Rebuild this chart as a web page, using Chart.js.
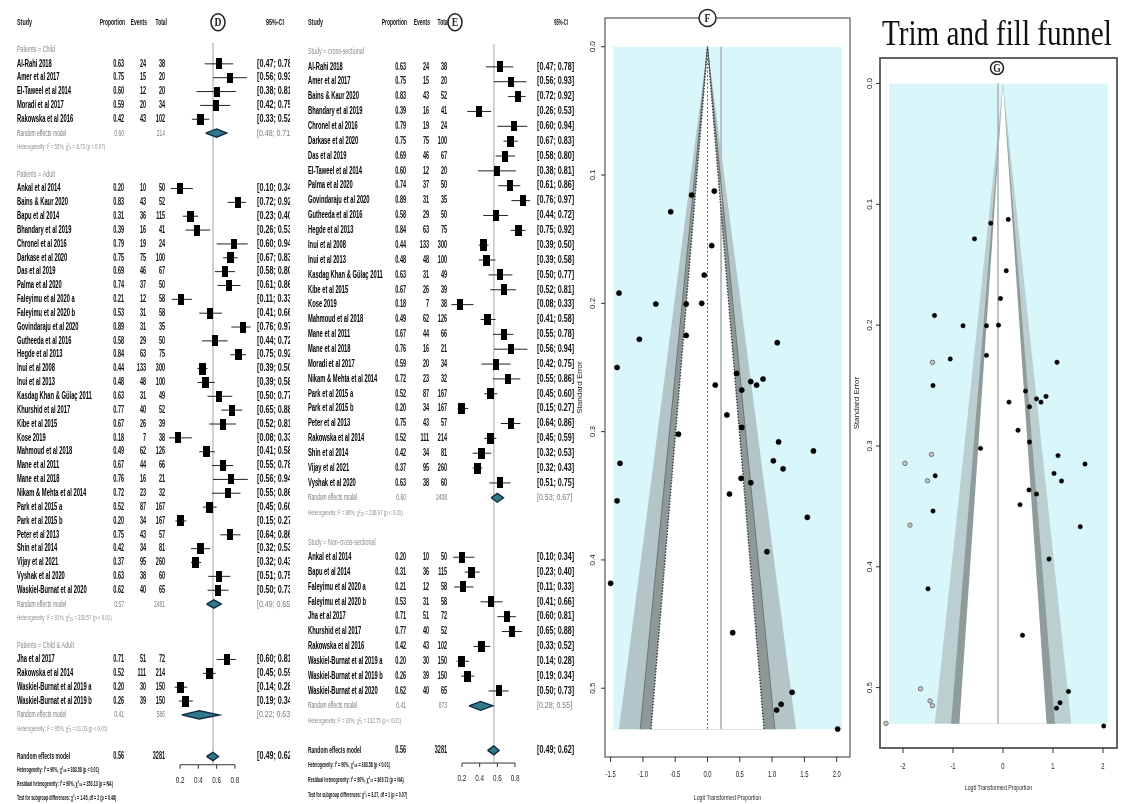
<!DOCTYPE html>
<html>
<head>
<meta charset="utf-8">
<script src="https://cdn.jsdelivr.net/npm/chart.js@4.4.1/dist/chart.umd.min.js"></script>
<style>
  body { margin: 0; background: #fff; width: 1124px; height: 804px; overflow: hidden; position: relative; }
  canvas { position: absolute; top: 0; }
  #chartD { left: 0; }
  #chartE { left: 290px; }
  #chartF { left: 572px; }
  #chartG { left: 852px; }
  .trim__title {
    position: absolute; left: 882px; top: 15px;
    font-family: 'Liberation Serif', 'DejaVu Serif', serif; font-size: 36px; line-height: 36px;
    transform: scaleX(0.81); transform-origin: left top; white-space: nowrap; color: #111;
  }
</style>
</head>
<body>
<canvas id="chartD" width="290" height="804"></canvas>
<canvas id="chartE" width="285" height="804"></canvas>
<canvas id="chartF" width="284" height="804"></canvas>
<canvas id="chartG" width="272" height="804"></canvas>
<div class="trim__title">Trim and fill funnel</div>
<script>
// ---- forest data (subgroups by patients, panel D) ----
const childStudies = ['Al-Rahi 2018', 'Amer et al 2017', 'El-Taweel et al 2014', 'Moradi et al 2017', 'Rakowska et al 2016']
const adultStudies = ['Ankal et al 2014', 'Bains & Kaur 2020', 'Bapu et al 2014', 'Bhandary et al 2019', 'Chronel et al 2016',
  'Darkase et al 2020', 'Das et al 2019', 'Palma et al 2020', 'Faleyimu et al 2020 a', 'Faleyimu et al 2020 b',
  'Govindaraju et al 2020', 'Gutheeda et al 2016', 'Hegde et al 2013', 'Inui et al 2008', 'Inui et al 2013',
  'Kasdag Khan & Gülaç 2011', 'Khurshid et al 2017', 'Kibe et al 2015', 'Kose 2019', 'Mahmoud et al 2018',
  'Mane et al 2011', 'Mane et al 2018', 'Nikam & Mehta et al 2014', 'Park et al 2015 a', 'Park et al 2015 b',
  'Peter et al 2013', 'Shin et al 2014', 'Vijay et al 2021', 'Vyshak et al 2020', 'Waskiel-Burnat et al 2020']
const childAdultStudies = ['Jha et al 2017', 'Rakowska et al 2014', 'Waskiel-Burnat et al 2019 a', 'Waskiel-Burnat et al 2019 b']

const studyNames = childStudies.concat(adultStudies, childAdultStudies)
const proportion = [0.63, 0.75, 0.60, 0.59, 0.42,
  0.20, 0.83, 0.31, 0.39, 0.79, 0.75, 0.69, 0.74, 0.21, 0.53, 0.89, 0.58, 0.84, 0.44, 0.48,
  0.63, 0.77, 0.67, 0.18, 0.49, 0.67, 0.76, 0.72, 0.52, 0.20, 0.75, 0.42, 0.37, 0.63, 0.62,
  0.71, 0.52, 0.20, 0.26]
const events = [24, 15, 12, 20, 43,
  10, 43, 36, 16, 19, 75, 46, 37, 12, 31, 31, 29, 63, 133, 48,
  31, 40, 26, 7, 62, 44, 16, 23, 87, 34, 43, 34, 95, 38, 40,
  51, 111, 30, 39]
const totals = [38, 20, 20, 34, 102,
  50, 52, 115, 41, 24, 100, 67, 50, 58, 58, 35, 50, 75, 300, 100,
  49, 52, 39, 38, 126, 66, 21, 32, 167, 167, 57, 81, 260, 60, 65,
  72, 214, 150, 150]
const ciLower = [0.47, 0.56, 0.38, 0.42, 0.33,
  0.10, 0.72, 0.23, 0.26, 0.60, 0.67, 0.58, 0.61, 0.11, 0.41, 0.76, 0.44, 0.75, 0.39, 0.39,
  0.50, 0.65, 0.52, 0.08, 0.41, 0.55, 0.56, 0.55, 0.45, 0.15, 0.64, 0.32, 0.32, 0.51, 0.50,
  0.60, 0.45, 0.14, 0.19]
const ciUpper = [0.78, 0.93, 0.81, 0.75, 0.52,
  0.34, 0.92, 0.40, 0.53, 0.94, 0.83, 0.80, 0.86, 0.33, 0.66, 0.97, 0.72, 0.92, 0.50, 0.58,
  0.77, 0.88, 0.81, 0.33, 0.58, 0.78, 0.94, 0.86, 0.60, 0.27, 0.86, 0.53, 0.43, 0.75, 0.73,
  0.81, 0.59, 0.28, 0.34]

const patientLabels = ['Patients = Child', 'Patients = Adult', 'Patients = Child & Adult']
const patientMembers = [childStudies, adultStudies, childAdultStudies]
const patientPooled = [0.60, 0.57, 0.41]
const patientPooledLo = [0.48, 0.49, 0.22]
const patientPooledHi = [0.71, 0.65, 0.63]
const patientPooledN = [214, 2481, 586]
const patientHet = ['Heterogeneity: I² = 55%, χ²₄ = 8.73 (p = 0.07)',
  'Heterogeneity: I² = 91%, χ²₂₉ = 330.57 (p < 0.01)',
  'Heterogeneity: I² = 95%, χ²₃ = 61.03 (p < 0.01)']

// ---- panel E: subgroups by study design ----
const crossSectional = ['Al-Rahi 2018', 'Amer et al 2017', 'Bains & Kaur 2020', 'Bhandary et al 2019', 'Chronel et al 2016',
  'Darkase et al 2020', 'Das et al 2019', 'El-Taweel et al 2014', 'Palma et al 2020', 'Govindaraju et al 2020',
  'Gutheeda et al 2016', 'Hegde et al 2013', 'Inui et al 2008', 'Inui et al 2013', 'Kasdag Khan & Gülaç 2011',
  'Kibe et al 2015', 'Kose 2019', 'Mahmoud et al 2018', 'Mane et al 2011', 'Mane et al 2018',
  'Moradi et al 2017', 'Nikam & Mehta et al 2014', 'Park et al 2015 a', 'Park et al 2015 b', 'Peter et al 2013',
  'Rakowska et al 2014', 'Shin et al 2014', 'Vijay et al 2021', 'Vyshak et al 2020']
const nonCrossSectional = ['Ankal et al 2014', 'Bapu et al 2014', 'Faleyimu et al 2020 a', 'Faleyimu et al 2020 b',
  'Jha et al 2017', 'Khurshid et al 2017', 'Rakowska et al 2016', 'Waskiel-Burnat et al 2019 a',
  'Waskiel-Burnat et al 2019 b', 'Waskiel-Burnat et al 2020']
const designLabels = ['Study = cross-sectional', 'Study = Non-cross-sectional']
const designMembers = [crossSectional, nonCrossSectional]
const designPooled = [0.60, 0.41]
const designPooledLo = [0.53, 0.28]
const designPooledHi = [0.67, 0.55]
const designPooledN = [2408, 873]
const designHet = ['Heterogeneity: I² = 88%, χ²₂₈ = 236.97 (p < 0.01)',
  'Heterogeneity: I² = 93%, χ²₉ = 132.75 (p < 0.01)']

const overallEst = 0.56
const overallLo = 0.49
const overallHi = 0.62
const overallN = 3281
const footD = ['Heterogeneity: I² = 90%, χ²₃₈ = 383.58 (p < 0.01)',
  'Residual heterogeneity: I² = 90%, χ²₃₆ = 353.13 (p = NA)',
  'Test for subgroup differences: χ²₂ = 1.45, df = 2 (p = 0.48)']
const footE = ['Heterogeneity: I² = 90%, χ²₃₈ = 383.58 (p < 0.01)',
  'Residual heterogeneity: I² = 90%, χ²₃₇ = 369.72 (p = NA)',
  'Test for subgroup differences: χ²₁ = 3.27, df = 1 (p = 0.07)']
const forestTicks = [0.2, 0.4, 0.6, 0.8]

// ---- funnel data (logit proportion vs standard error) ----
const funnelLogit = [-0.245, 0.105, -0.57, 0.065, -0.05, -1.37, -0.80, -0.33, -0.09, -0.33,
  -1.055, 1.08, -1.40, 0.45, 0.67, 0.86, 0.76, 0.53, 0.12, 0.30,
  0.53, -0.45, 1.10, 1.64, -1.355, 1.02, 1.17, 0.52, 0.67, 0.34,
  -1.40, 1.545, 0.92, -1.50, 0.39, 1.31, 1.14, 1.07, 2.015]
const funnelSE = [0.1156, 0.1125, 0.1286, 0.155, 0.178, 0.192, 0.2005, 0.2005, 0.200, 0.225,
  0.228, 0.2307, 0.250, 0.2546, 0.261, 0.259, 0.2637, 0.2676, 0.2637, 0.287,
  0.2967, 0.302, 0.308, 0.315, 0.3247, 0.3227, 0.329, 0.3364, 0.3398, 0.3486,
  0.3539, 0.3668, 0.3936, 0.4182, 0.4567, 0.5032, 0.5125, 0.517, 0.5318]
const filledLogit = [-1.41, -1.43, -1.96, -1.51, -1.86, -1.65, -1.46, -1.41, -2.34]
const filledSE = [0.2308, 0.307, 0.3144, 0.3288, 0.3655, 0.501, 0.511, 0.515, 0.5296]
const contourZ = [2.576, 1.96, 1.645]
const funnelTicksF = [-1.5, -1.0, -0.5, 0.0, 0.5, 1.0, 1.5, 2.0]
const funnelTicksG = [-2, -1, 0, 1, 2]
const seTicks = [0, 0.1, 0.2, 0.3, 0.4, 0.5]

Chart.defaults.font.family = "'Liberation Sans', Arial, sans-serif"

function txt(ctx, s, x, y, o) {
  ctx.save()
  ctx.font = o.font
  ctx.fillStyle = o.color || '#111'
  ctx.textAlign = o.align || 'left'
  ctx.textBaseline = 'middle'
  ctx.translate(x, y)
  ctx.scale(o.sx || 0.6, 1)
  if (o.rot) ctx.rotate(o.rot)
  ctx.fillText(s, 0, 0)
  ctx.restore()
}

function letterCircle(ctx, ch, x, y, rx, ry) {
  ctx.save()
  ctx.beginPath()
  ctx.ellipse(x, y, rx, ry, 0, 0, Math.PI * 2)
  ctx.fillStyle = '#fff'
  ctx.fill()
  ctx.lineWidth = 1.5
  ctx.strokeStyle = '#222'
  ctx.stroke()
  ctx.restore()
  txt(ctx, ch, x, y + 1, {font: "bold 12px 'Liberation Serif'", align: 'center', sx: 0.8, color: '#222'})
}

const boxCache = {}
function boxImage(n) {
  const s = Math.sqrt(n / 300)
  const w = Math.round(6 + s)
  const h = Math.round(10 + 1.5 * s)
  const key = w + 'x' + h
  if (!boxCache[key]) {
    const c = document.createElement('canvas')
    c.width = w
    c.height = h
    const g = c.getContext('2d')
    g.fillStyle = '#000'
    g.fillRect(0, 0, w, h)
    boxCache[key] = c
  }
  return boxCache[key]
}

function buildRows(labels, members, pooled, lo, hi, n, het, foot) {
  const rows = []
  labels.forEach((label, k) => {
    rows.push({kind: 'head', text: label})
    members[k].forEach(name => rows.push({kind: 'study', i: studyNames.indexOf(name)}))
    rows.push({kind: 'pooled', est: pooled[k], lo: lo[k], hi: hi[k], n: n[k]})
    rows.push({kind: 'het', text: het[k]})
    rows.push({kind: 'blank'})
  })
  rows.push({kind: 'overall', est: overallEst, lo: overallLo, hi: overallHi, n: overallN})
  foot.forEach(t => rows.push({kind: 'foot', text: t}))
  return rows
}

const fmtCI = (a, b) => '[' + a.toFixed(2) + '; ' + b.toFixed(2) + ']'

function makeForest(id, rows, L) {
  const whiskers = []
  const boxes = []
  const boxStyles = []
  const diamonds = []
  rows.forEach((r, k) => {
    const row = k + 1
    if (r.kind === 'study') {
      whiskers.push({x: ciLower[r.i], y: row}, {x: ciUpper[r.i], y: row}, {x: null, y: null})
      boxes.push({x: proportion[r.i], y: row})
      boxStyles.push(boxImage(totals[r.i]))
    }
    if (r.kind === 'pooled' || r.kind === 'overall') {
      const h = 0.3
      diamonds.push({
        type: 'scatter', showLine: true, fill: 'shape', pointRadius: 0, order: 1, clip: false,
        backgroundColor: '#2f7a8a', borderColor: '#102a40', borderWidth: 1.4,
        data: [{x: r.lo, y: row}, {x: r.est, y: row - h}, {x: r.hi, y: row}, {x: r.est, y: row + h}, {x: r.lo, y: row}]
      })
    }
  })

  const tablePlugin = {
    id: 'forestTable',
    afterDraw(chart) {
      const ctx = chart.ctx
      const ys = chart.scales.y
      const xs = chart.scales.x
      const c = L.cols
      const py = v => ys.getPixelForValue(v)

      // header
      const hy = py(-1)
      txt(ctx, 'Study', c.study, hy, {font: 'bold 9px Liberation Sans', sx: 0.6})
      txt(ctx, 'Proportion', c.prop + 1, hy, {font: 'bold 9px Liberation Sans', sx: 0.55, align: 'right'})
      txt(ctx, 'Events', c.events + 1, hy, {font: 'bold 9px Liberation Sans', sx: 0.55, align: 'right'})
      txt(ctx, 'Total', c.total + 2, hy, {font: 'bold 9px Liberation Sans', sx: 0.55, align: 'right'})
      txt(ctx, '95%-CI', c.ciHead, hy, {font: 'bold 9px Liberation Sans', sx: L.ciHeadSx, align: 'center'})

      rows.forEach((r, k) => {
        const y = py(k + 1)
        if (r.kind === 'head') {
          txt(ctx, r.text, c.study, y, {font: '9px Liberation Sans', color: '#8a8a8a', sx: 0.6})
        } else if (r.kind === 'study') {
          const i = r.i
          const f = 'bold 10px Liberation Sans'
          txt(ctx, studyNames[i], c.study, y, {font: f, sx: 0.58, color: '#000'})
          txt(ctx, proportion[i].toFixed(2), c.prop, y, {font: f, sx: 0.55, align: 'right'})
          txt(ctx, String(events[i]), c.events, y, {font: f, sx: 0.55, align: 'right'})
          txt(ctx, String(totals[i]), c.total, y, {font: f, sx: 0.55, align: 'right'})
          txt(ctx, fmtCI(ciLower[i], ciUpper[i]), c.ci, y, {font: f, sx: 0.72})
        } else if (r.kind === 'pooled') {
          const o = {font: '9px Liberation Sans', color: '#7a7a7a', sx: 0.55}
          txt(ctx, 'Random effects model', c.study, y, o)
          txt(ctx, r.est.toFixed(2), c.prop, y, Object.assign({}, o, {align: 'right'}))
          txt(ctx, String(r.n), c.total, y, Object.assign({}, o, {align: 'right'}))
          txt(ctx, fmtCI(r.lo, r.hi), c.ci, y, Object.assign({}, o, {sx: 0.78}))
        } else if (r.kind === 'het') {
          txt(ctx, r.text, c.study, y, {font: '8px Liberation Sans', color: '#8c8c8c', sx: 0.55})
        } else if (r.kind === 'overall') {
          const o = {font: 'bold 9px Liberation Sans', sx: 0.55}
          txt(ctx, 'Random effects model', c.study, y, o)
          txt(ctx, r.est.toFixed(2), c.prop, y, Object.assign({}, o, {align: 'right', font: 'bold 10px Liberation Sans'}))
          txt(ctx, String(r.n), c.total, y, Object.assign({}, o, {align: 'right', font: 'bold 10px Liberation Sans'}))
          txt(ctx, fmtCI(r.lo, r.hi), c.ci, y, {font: 'bold 10px Liberation Sans', sx: 0.72})
        } else if (r.kind === 'foot') {
          txt(ctx, r.text, c.study, y, {font: 'bold 8px Liberation Sans', sx: 0.46})
        }
      })

      // x axis drawn from the x scale, under the overall row
      const ay = py(L.axisRow)
      const x0 = xs.getPixelForValue(forestTicks[0])
      const x1 = xs.getPixelForValue(forestTicks[forestTicks.length - 1])
      ctx.save()
      ctx.strokeStyle = '#333'
      ctx.lineWidth = 1
      ctx.beginPath()
      ctx.moveTo(x0, ay)
      ctx.lineTo(x1, ay)
      forestTicks.forEach(t => {
        const tx = xs.getPixelForValue(t)
        ctx.moveTo(tx, ay)
        ctx.lineTo(tx, ay + 4)
      })
      ctx.stroke()
      ctx.restore()
      forestTicks.forEach(t => {
        txt(ctx, t.toFixed(1), xs.getPixelForValue(t), ay + L.tickGap, {font: '9px Liberation Sans', sx: 0.7, align: 'center', color: '#222'})
      })

      letterCircle(ctx, L.letter, c.letter, hy, 7, 8.5)
    }
  }

  return new Chart(document.getElementById(id), {
    type: 'scatter',
    data: {
      datasets: [
        {data: boxes, pointStyle: boxStyles, pointRadius: 5, order: 0, clip: false},
        ...diamonds,
        {data: whiskers, showLine: true, borderColor: '#222', borderWidth: 1, pointRadius: 0, order: 2, clip: false},
        {data: [{x: overallEst, y: 0.5}, {x: overallEst, y: L.axisRow}], showLine: true,
          borderColor: '#c9c9c9', borderWidth: 1, pointRadius: 0, order: 5, clip: false}
      ]
    },
    options: {
      responsive: false,
      animation: false,
      devicePixelRatio: 1,
      events: [],
      layout: {padding: L.padding},
      plugins: {legend: {display: false}, tooltip: {enabled: false}},
      scales: {
        x: {type: 'linear', min: 0, max: 1, display: false},
        y: {type: 'linear', min: 1, max: L.rowMax, reverse: true, display: false}
      }
    },
    plugins: [tablePlugin]
  })
}

const rowsD = buildRows(patientLabels, patientMembers, patientPooled, patientPooledLo, patientPooledHi, patientPooledN, patientHet, footD)
const rowsE = buildRows(designLabels, designMembers, designPooled, designPooledLo, designPooledHi, designPooledN, designHet, footE)

makeForest('chartD', rowsD, {
  padding: {left: 161.7, right: 36.7, top: 50, bottom: 4},
  rowMax: rowsD.length,
  axisRow: 52.6,
  tickGap: 16,
  letter: 'D',
  ciHeadSx: 0.6,
  cols: {study: 17, prop: 124, events: 146, total: 165, ci: 257, ciHead: 275, letter: 218}
})

makeForest('chartE', rowsE, {
  padding: {left: 154.3, right: 42.3, top: 52, bottom: 9},
  rowMax: rowsE.length,
  axisRow: 48.85,
  tickGap: 15,
  letter: 'E',
  ciHeadSx: 0.45,
  cols: {study: 18, prop: 116, events: 139, total: 157, ci: 247, ciHead: 271, letter: 165}
})

// ---- funnels ----
function makeFunnel(id, F) {
  const seMax = F.seMax
  const tri = z => [{x: 0, y: 0}, {x: -z * seMax, y: seMax}, {x: z * seMax, y: seMax}, {x: 0, y: 0}]
  const poly = (data, color, order) => ({
    data, showLine: true, fill: 'shape', backgroundColor: color, borderColor: color, borderWidth: 0,
    pointRadius: 0, order
  })
  const datasets = [
    {data: funnelLogit.map((x, i) => ({x, y: funnelSE[i]})), pointRadius: F.dot, backgroundColor: '#000',
      borderColor: '#000', borderWidth: 0.5, order: 0, clip: false},
    poly([{x: F.back[0], y: 0}, {x: F.back[1], y: 0}, {x: F.back[1], y: seMax}, {x: F.back[0], y: seMax}, {x: F.back[0], y: 0}],
      '#d9f7fa', 9),
    poly(tri(contourZ[0]), F.lightBand, 8),
    poly(tri(contourZ[1]), F.darkBand, 7),
    poly(tri(contourZ[2]), '#ffffff', 6),
    {data: [{x: F.refLine, y: 0}, {x: F.refLine, y: seMax}], showLine: true, borderColor: F.refColor,
      borderWidth: F.refWidth, pointRadius: 0, order: 3}
  ]
  if (F.dotted) {
    datasets.push({data: [{x: 0, y: 0}, {x: 0, y: seMax}], showLine: true, borderColor: '#666',
      borderWidth: 1, borderDash: [2, 2], pointRadius: 0, order: 2})
    datasets.push({data: [{x: -contourZ[2] * seMax, y: seMax}, {x: 0, y: 0}, {x: contourZ[2] * seMax, y: seMax}],
      showLine: true, borderColor: '#3a3a3a', borderWidth: 1.4, borderDash: [1.5, 1.5], pointRadius: 0, order: 2})
    datasets.push({data: [{x: -contourZ[1] * seMax, y: seMax}, {x: 0, y: 0}, {x: contourZ[1] * seMax, y: seMax}],
      showLine: true, borderColor: '#6d7676', borderWidth: 1, pointRadius: 0, order: 2})
  }
  if (F.filled) {
    datasets.push({data: filledLogit.map((x, i) => ({x, y: filledSE[i]})), pointRadius: F.dot,
      backgroundColor: '#c9c9c9', borderColor: '#6c6c6c', borderWidth: 1, order: 0, clip: false})
  }

  const axesPlugin = {
    id: 'funnelAxes',
    afterDraw(chart) {
      const ctx = chart.ctx
      const a = chart.chartArea
      const xs = chart.scales.x
      const ys = chart.scales.y
      ctx.save()
      ctx.strokeStyle = '#555'
      ctx.lineWidth = F.frameWidth
      ctx.strokeRect(a.left, a.top, a.right - a.left, a.bottom - a.top)
      ctx.lineWidth = 1
      ctx.strokeStyle = '#333'
      ctx.beginPath()
      F.xTicks.forEach(t => {
        const px = xs.getPixelForValue(t)
        ctx.moveTo(px, a.bottom)
        ctx.lineTo(px, a.bottom + 5)
      })
      seTicks.forEach(t => {
        const py = ys.getPixelForValue(t)
        ctx.moveTo(a.left, py)
        ctx.lineTo(a.left - 4, py)
      })
      ctx.stroke()
      ctx.restore()
      F.xTicks.forEach(t => {
        txt(ctx, F.xFmt(t), xs.getPixelForValue(t), a.bottom + F.xLabGap, {font: '9px Liberation Sans', sx: 0.65, align: 'center', color: '#222'})
      })
      seTicks.forEach(t => {
        txt(ctx, t.toFixed(1), a.left - F.yLabGap, ys.getPixelForValue(t), {font: '8px Liberation Sans', sx: 1, rot: -Math.PI / 2, align: 'center', color: '#222'})
      })
      txt(ctx, 'Logit Transformed Proportion', (a.left + a.right) / 2 + F.xTitleShift, a.bottom + F.xTitleGap,
        {font: '8px Liberation Sans', sx: 0.65, align: 'center', color: '#222'})
      txt(ctx, 'Standard Error', F.yTitleX, (a.top + a.bottom) / 2, {font: '8px Liberation Sans', sx: 1, rot: -Math.PI / 2, align: 'center', color: '#222'})
      letterCircle(ctx, F.letter, xs.getPixelForValue(F.letterAt), a.top + F.letterDy, F.letterR, F.letterR)
    }
  }

  return new Chart(document.getElementById(id), {
    type: 'scatter',
    data: {datasets},
    options: {
      responsive: false,
      animation: false,
      devicePixelRatio: 1,
      events: [],
      layout: {padding: F.padding},
      plugins: {legend: {display: false}, tooltip: {enabled: false}},
      scales: {
        x: {type: 'linear', min: F.xRange[0], max: F.xRange[1], display: false},
        y: {type: 'linear', min: F.yRange[0], max: F.yRange[1], reverse: true, display: false}
      }
    },
    plugins: [axesPlugin]
  })
}

makeFunnel('chartF', {
  padding: {left: 33, right: 6, top: 18, bottom: 47},
  xRange: [-1.587, 2.206], yRange: [-0.0224, 0.5536],
  seMax: 0.532, back: [-1.46, 2.08],
  lightBand: '#b3c5c7', darkBand: '#8d9999',
  refLine: 0.21, refColor: '#b7c0c0', refWidth: 2,
  dotted: true, filled: false, dot: 2.6,
  xTicks: funnelTicksF, xFmt: t => t.toFixed(1),
  xLabGap: 18, xTitleGap: 41, xTitleShift: 0, yLabGap: 12, yTitleX: 8,
  frameWidth: 1.2, letter: 'F', letterAt: 0, letterDy: 0, letterR: 8.5
})

makeFunnel('chartG', {
  padding: {left: 28, right: 7, top: 58, bottom: 56},
  xRange: [-2.46, 2.28], yRange: [-0.0211, 0.55],
  seMax: 0.53, back: [-2.28, 2.1],
  lightBand: '#bccfd0', darkBand: '#8f9c9c',
  refLine: -0.1, refColor: '#a9b0b0', refWidth: 1.5,
  dotted: false, filled: true, dot: 2.2,
  xTicks: funnelTicksG, xFmt: t => String(t),
  xLabGap: 19, xTitleGap: 40, xTitleShift: 0, yLabGap: 10, yTitleX: 5,
  frameWidth: 1.8, letter: 'G', letterAt: -0.12, letterDy: 10, letterR: 6.5
})
</script>
</body>
</html>
